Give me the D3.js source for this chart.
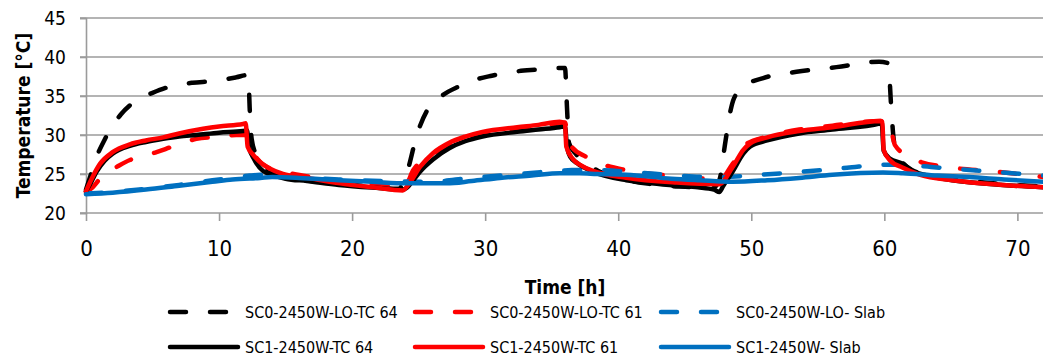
<!DOCTYPE html>
<html>
<head>
<meta charset="utf-8">
<script src="https://cdn.jsdelivr.net/npm/d3@7"></script>
<style>
  html, body { margin: 0; padding: 0; background: #fff; }
  svg text { font-family: "Liberation Sans Narrow", "DejaVu Sans Condensed", "Liberation Sans", sans-serif; fill: #000; }
</style>
</head>
<body>
<svg id="chart" width="1043" height="358"></svg>
<script>
// ── Data ─────────────────────────────────────────────────────────────────────
const xTicks = [0, 10, 20, 30, 40, 50, 60, 70];
const yTicks = [20, 25, 30, 35, 40, 45];

// SC0-2450W-LO-TC 64 (black dashed)
const sc0Tc64Time = [0, 0.3, 0.8, 1.4, 2.0, 2.6, 3.3, 4.2, 5.0, 6.3, 8.0, 9.5, 11.3, 12.2, 12.3, 12.45, 12.8, 13.4, 14.2, 16, 19, 22, 23.5, 24.1, 24.9, 25.8, 26.8, 28, 29.1, 30.5, 32.1, 34, 35.4, 36.0, 36.15, 36.3, 36.8, 37.5, 38.5, 40.5, 43, 45.5, 47, 47.6, 48.0, 48.4, 48.7, 49.6, 50.9, 53.4, 56.4, 59.6, 60.3, 60.5, 60.7, 61.0, 61.4, 62.1, 63.5, 66, 69, 72];
const sc0Tc64Val  = [23.0, 24.6, 27.2, 29.4, 31.2, 32.6, 33.8, 34.8, 35.4, 36.2, 36.7, 36.9, 37.4, 37.7, 33.5, 29.5, 27.4, 25.9, 25.0, 24.3, 23.8, 23.3, 23.1, 25.1, 30.2, 33.6, 35.1, 36.2, 37.0, 37.6, 38.1, 38.4, 38.6, 38.6, 33.5, 29.0, 27.6, 26.5, 25.4, 24.3, 23.6, 23.3, 23.1, 24.2, 28.5, 32.8, 34.7, 36.4, 37.3, 38.1, 38.7, 39.4, 39.2, 34.0, 29.5, 27.4, 26.4, 25.5, 24.8, 24.2, 23.7, 23.4];

// SC0-2450W-LO-TC 61 (red dashed)
const sc0Tc61Time = [0, 0.5, 1.0, 1.6, 2.3, 3.3, 4.3, 5.3, 6.3, 7.3, 8.3, 10.1, 11.3, 12.0, 12.3, 12.6, 13.6, 15.6, 17, 19, 21, 23, 24, 24.6, 25.3, 26.1, 27.3, 29.8, 32.4, 35.6, 36.0, 36.2, 36.5, 37.6, 38.9, 40.6, 42.5, 44.5, 46.5, 47.6, 48.6, 49.6, 51.2, 53.6, 56.1, 59.7, 60.4, 60.6, 60.8, 61.9, 62.8, 64.7, 68.4, 72];
const sc0Tc61Val  = [22.7, 23.3, 24.3, 25.2, 25.9, 26.8, 27.3, 27.8, 28.4, 29.0, 29.5, 29.8, 30.0, 30.0, 28.8, 27.7, 25.9, 25.0, 24.6, 24.1, 23.8, 23.5, 23.6, 25.5, 26.8, 27.6, 28.8, 30.1, 30.8, 31.5, 31.6, 30.0, 28.5, 27.2, 26.2, 25.5, 25.0, 24.7, 24.4, 24.2, 26.3, 28.8, 29.8, 30.7, 31.2, 31.8, 31.7, 30.0, 28.7, 27.2, 26.5, 25.9, 25.3, 24.6];

// SC0-2450W-LO- Slab (blue dashed)
const sc0SlabTime = [0, 2, 4.5, 7, 9.5, 11, 12.3, 13.1, 14.5, 17, 19, 22.5, 25.8, 28.9, 31.9, 35.4, 36.5, 38.4, 41.4, 44.5, 47.4, 50.6, 53.9, 57.2, 59.9, 61, 63.5, 66.4, 69.6, 72];
const sc0SlabVal  = [22.5, 22.7, 23.1, 23.6, 24.2, 24.5, 24.8, 24.9, 24.7, 24.5, 24.3, 24.1, 24.0, 24.5, 24.9, 25.4, 25.5, 25.5, 25.2, 24.8, 24.6, 24.9, 25.3, 25.8, 26.2, 26.2, 25.9, 25.5, 25.1, 24.8];

// SC1-2450W-TC 64 (black solid)
const sc1Tc64Time = [0, 0.4, 0.8, 1.4, 2.0, 3.3, 4.5, 5.8, 7, 8.3, 10, 11.8, 12.1, 12.25, 12.6, 13.3, 14, 15, 16.6, 19, 22, 23.8, 24.1, 24.5, 25.1, 26.1, 27.3, 28.5, 29.8, 32.4, 34, 35.6, 36.0, 36.15, 36.4, 36.9, 38.1, 40.6, 42.5, 44.4, 46, 47.2, 47.6, 47.9, 48.6, 49.4, 49.9, 51.2, 53.6, 56.1, 59.7, 59.8, 59.95, 60.4, 61.4, 62.1, 63, 65.1, 68.9, 72];
const sc1Tc64Val  = [22.8, 24.0, 25.3, 26.7, 27.6, 28.6, 29.1, 29.5, 29.8, 30.0, 30.3, 30.5, 30.6, 28.5, 27.0, 25.4, 24.9, 24.4, 24.1, 23.6, 23.2, 23.0, 23.2, 24.0, 25.3, 26.9, 28.3, 29.2, 29.8, 30.4, 30.7, 31.0, 31.1, 28.5, 27.2, 26.4, 25.3, 24.2, 23.8, 23.5, 23.3, 23.0, 22.7, 23.5, 25.3, 27.6, 28.5, 29.3, 30.2, 30.7, 31.5, 31.6, 28.0, 27.0, 26.3, 25.4, 24.9, 24.2, 23.6, 23.3];

// SC1-2450W-TC 61 (red solid)
const sc1Tc61Time = [0, 0.4, 1.05, 2.0, 3.3, 4.5, 5.8, 7, 8.8, 10, 11.8, 12.0, 12.15, 12.6, 13.1, 13.8, 14.8, 16.6, 19.1, 21.6, 23.8, 24.3, 25.1, 26.1, 27.3, 28.5, 29.8, 32.4, 34, 35.6, 36.0, 36.1, 36.6, 37.2, 38.1, 40.6, 44.4, 47.6, 48.6, 49.4, 49.9, 51.2, 53.6, 56.1, 59.7, 59.85, 59.95, 60.4, 61.4, 62.7, 65.1, 68.9, 72];
const sc1Tc61Val  = [22.8, 24.3, 26.3, 27.8, 28.8, 29.3, 29.7, 30.2, 30.8, 31.1, 31.4, 31.5, 28.5, 27.4, 26.5, 25.7, 25.0, 24.5, 23.8, 23.3, 22.9, 23.8, 25.9, 27.7, 29.0, 29.8, 30.4, 31.0, 31.3, 31.7, 31.5, 28.5, 26.9, 26.1, 25.4, 24.5, 23.9, 23.7, 25.9, 28.1, 28.9, 29.7, 30.5, 31.0, 31.8, 31.7, 28.1, 26.8, 25.8, 24.9, 24.2, 23.6, 23.3];

// SC1-2450W- Slab (blue solid)
const sc1SlabTime = [0, 2, 4.5, 7, 9.5, 11, 13.1, 14, 16, 19, 21.5, 24.1, 27.1, 29, 31.1, 33.5, 35.6, 37.1, 38.4, 40.6, 44, 46.1, 48.6, 51.2, 53.6, 56.1, 59.9, 61.4, 64, 66.4, 69, 72];
const sc1SlabVal  = [22.4, 22.6, 23.0, 23.5, 24.0, 24.3, 24.5, 24.6, 24.5, 24.2, 24.0, 23.8, 23.8, 24.1, 24.5, 24.8, 25.1, 25.1, 25.0, 24.9, 24.4, 24.2, 24.0, 24.2, 24.5, 24.9, 25.2, 25.1, 24.8, 24.6, 24.3, 24.0];

const seriesNames  = ['SC0-2450W-LO-TC 64', 'SC0-2450W-LO-TC 61', 'SC0-2450W-LO- Slab', 'SC1-2450W-TC 64', 'SC1-2450W-TC 61', 'SC1-2450W- Slab'];
const seriesColors = ['#000000', '#ff0000', '#0070c0', '#000000', '#ff0000', '#0070c0'];
const seriesDashed = [true, true, true, false, false, false];
const seriesTimes  = [sc0Tc64Time, sc0Tc61Time, sc0SlabTime, sc1Tc64Time, sc1Tc61Time, sc1SlabTime];
const seriesVals   = [sc0Tc64Val, sc0Tc61Val, sc0SlabVal, sc1Tc64Val, sc1Tc61Val, sc1SlabVal];

// ── Layout ───────────────────────────────────────────────────────────────────
const L = 86, R = 1044, T = 18, B = 213;
const svg = d3.select('#chart');

const x = d3.scaleLinear().domain([0, 72]).range([L, R]);
const y = d3.scaleLinear().domain([20, 45]).range([B, T]);

const GRID = '#9b9b9b';

// gridlines
svg.append('g').selectAll('line').data(yTicks.filter(v => v > 20)).join('line')
  .attr('x1', L - 6).attr('x2', R).attr('y1', d => y(d)).attr('y2', d => y(d))
  .attr('stroke', GRID).attr('stroke-width', 1.6);

// y axis
const yAxis = svg.append('g').attr('transform', `translate(${L},0)`)
  .call(d3.axisLeft(y).tickValues(yTicks).tickSize(6).tickPadding(0).tickFormat(d3.format('d')));
yAxis.select('.domain').attr('stroke', GRID).attr('stroke-width', 1.6);
yAxis.selectAll('.tick line').attr('stroke', GRID).attr('stroke-width', 1.6);
yAxis.selectAll('.tick text').attr('x', -20).attr('dy', '0.36em')
  .style('font-size', '19px');

// x axis
const xAxis = svg.append('g').attr('transform', `translate(0,${B})`)
  .call(d3.axisBottom(x).tickValues(xTicks).tickSize(8).tickPadding(0).tickFormat(d3.format('d')));
xAxis.select('.domain').attr('stroke', GRID).attr('stroke-width', 1.6)
  .attr('d', `M${L - 6},0H${R}`);
xAxis.selectAll('.tick line').attr('stroke', GRID).attr('stroke-width', 1.6);
xAxis.selectAll('.tick text').attr('y', 43).attr('dy', 0)
  .style('font-size', '22px');

// axis titles
svg.append('text').attr('x', (L + R) / 2).attr('y', 294).attr('text-anchor', 'middle')
  .style('font-size', '19px').style('font-weight', 'bold').text('Time [h]');
svg.append('text').attr('transform', `translate(30,${(T + B) / 2}) rotate(-90)`)
  .attr('text-anchor', 'middle').style('font-size', '19px').style('font-weight', 'bold')
  .text('Temperature [°C]');

// ── Lines ────────────────────────────────────────────────────────────────────
const line = d3.line().x(d => x(d[0])).y(d => y(d[1])).curve(d3.curveMonotoneX);
const plot = svg.append('g');
seriesNames.forEach((name, i) => {
  const pts = seriesTimes[i].map((t, k) => [t, seriesVals[i][k]]);
  plot.append('path').datum(pts)
    .attr('d', line)
    .attr('fill', 'none')
    .attr('stroke', seriesColors[i])
    .attr('stroke-width', 4.5)
    .attr('stroke-linecap', 'round')
    .attr('stroke-linejoin', 'round')
    .attr('stroke-dasharray', seriesDashed[i] ? '16,24' : null);
});

// ── Legend ───────────────────────────────────────────────────────────────────
const legCols = [170, 415, 661];
const legRows = [312, 347];
const leg = svg.append('g');
seriesNames.forEach((name, i) => {
  const cx = legCols[i % 3], cy = legRows[Math.floor(i / 3)];
  const g = leg.append('g');
  g.append('line')
    .attr('x1', cx).attr('x2', seriesDashed[i] ? cx + 62 : cx + 68)
    .attr('y1', cy).attr('y2', cy)
    .attr('stroke', seriesColors[i]).attr('stroke-width', 4.5)
    .attr('stroke-linecap', 'round')
    .attr('stroke-dasharray', seriesDashed[i] ? '16,24' : null);
  g.append('text').attr('x', cx + 75).attr('y', cy).attr('dy', '0.35em')
    .style('font-size', '16px').text(name);
});
</script>
</body>
</html>
